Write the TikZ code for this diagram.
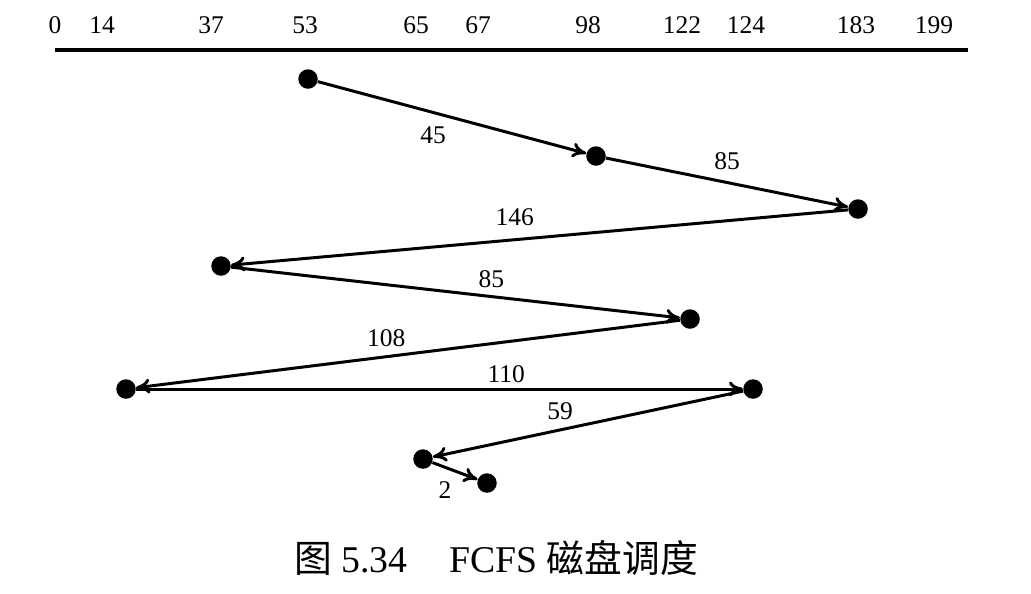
\documentclass[tikz,border=0pt]{standalone}
\usepackage{fontspec}
\setmainfont{Liberation Serif}
\newfontfamily\cjk{Noto Sans CJK SC}
\usetikzlibrary{arrows.meta, positioning}
\tikzset{
	trk/.style ={circle, fill=black, minimum size=0.39cm, inner sep=0pt},
	seek/.style={-{To[length=2.8mm, width=3mm]}, line width=1.7pt},
	tnum/.style={font=\fontsize{14.5}{16}\selectfont, inner sep=1pt},
	axis/.style={line width=2pt},
}

\begin{document}
\begin{tikzpicture}[x=0.02cm, y=-0.02cm]
	\useasboundingbox (0,0) rectangle (1031,593);
	% cylinder numbers on the scale
	\foreach \n/\x in {0/55, 14/102, 37/211, 53/305, 65/416, 67/478, 98/588, 122/682, 124/746, 183/856, 199/934}
		\node[tnum] (l\n) at (\x,25) {\n};
	\coordinate (axL) at (55,50);
	\coordinate (axR) at (968,50);
	\draw[axis] (axL) -- (axR);
	% head positions in request order
	\node[trk] (p53)  at (308,79)  {};
	\node[trk] (p98)  at (596,156) {};
	\node[trk] (p183) at (858,209) {};
	\node[trk] (p37)  at (221,266) {};
	\node[trk] (p122) at (690,319) {};
	\node[trk] (p14)  at (126,389) {};
	\node[trk] (p124) at (753,389) {};
	\node[trk] (p65)  at (423,459) {};
	\node[trk] (p67)  at (487,483) {};
	\draw[seek] (p53)  -- node[tnum, below=0.21cm, pos=0.43] {45}  (p98);
	\draw[seek] (p98)  -- node[tnum, above=0.19cm, pos=0.50] {85}  (p183);
	\draw[seek] (p183) -- node[tnum, above=0.21cm, pos=0.54] {146} (p37);
	\draw[seek] (p37)  -- node[tnum, above=0.11cm, pos=0.58] {85}  (p122);
	\draw[seek] (p122) -- node[tnum, above=0.13cm, pos=0.54] {108} (p14);
	\draw[seek] (p14)  -- node[tnum, above=0.07cm, pos=0.61] {110} (p124);
	\draw[seek] (p124) -- node[tnum, above=0.13cm, pos=0.59] {59}  (p65);
	\draw[seek] (p65)  -- node[tnum, below=0.23cm, pos=0.28] {2}   (p67);
	% caption
	\node[font=\fontsize{21.5}{26}\selectfont] (cap) at (496,558) {{\cjk 图} 5.34\hspace{1.1em}FCFS {\cjk 磁盘调度}};
\end{tikzpicture}
\end{document}
